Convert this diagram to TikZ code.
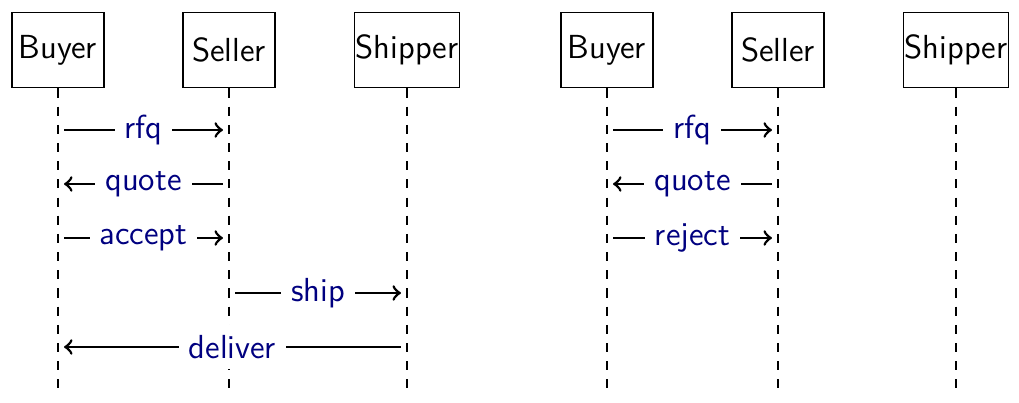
\documentclass[tikz,border=0pt]{standalone}
\usepackage{tikz}
\usetikzlibrary{arrows,calc,positioning}
\tikzstyle{actor} = [rectangle, minimum width=30.4pt, minimum height=25pt, inner xsep=0.4pt, text centered, draw=black, font=\sffamily\fontsize{11}{13}\selectfont]
\tikzstyle{lifeline} = [dashed, thin]
\tikzstyle{msg} = [line width=0.9pt,->,shorten >=2pt,shorten <=2pt]
\tikzstyle{lbl} = [fill=white, text=blue!50!black, font=\sffamily\fontsize{11}{13}\selectfont]

\begin{document}
\begin{tikzpicture}[x=0.33pt, y=-0.33pt]
\useasboundingbox (0,0) rectangle (1019,403);

% rows
\coordinate (r1) at (0,130);
\coordinate (r2) at (0,184);
\coordinate (r3) at (0,238);
\coordinate (r4) at (0,293);
\coordinate (r5) at (0,347);
\coordinate (bottom) at (0,390);

% first run
\node (buyer1)   [actor] at (58,50)  {Buyer};
\node (seller1)  [actor] at (229,50) {Seller};
\node (shipper1) [actor] at (407,50) {Shipper};

% second run
\node (buyer2)   [actor] at (607,50) {Buyer};
\node (seller2)  [actor] at (778,50) {Seller};
\node (shipper2) [actor] at (956,50) {Shipper};

\draw [lifeline] (buyer1.south) -- (buyer1.south |- bottom);
\draw [lifeline] (seller1.south) -- (seller1.south |- bottom);
\draw [lifeline] (shipper1.south) -- (shipper1.south |- bottom);
\draw [lifeline] (buyer2.south) -- (buyer2.south |- bottom);
\draw [lifeline] (seller2.south) -- (seller2.south |- bottom);
\draw [lifeline] (shipper2.south) -- (shipper2.south |- bottom);

\draw [msg] (buyer1 |- r1) -- node [lbl] {rfq} (seller1 |- r1);
\draw [msg] (seller1 |- r2) -- node [lbl] {quote} (buyer1 |- r2);
\draw [msg] (buyer1 |- r3) -- node [lbl] {accept} (seller1 |- r3);
\draw [msg] (seller1 |- r4) -- node [lbl] {ship} (shipper1 |- r4);
\draw [msg] (shipper1 |- r5) -- node [lbl] {deliver} (buyer1 |- r5);

\draw [msg] (buyer2 |- r1) -- node [lbl] {rfq} (seller2 |- r1);
\draw [msg] (seller2 |- r2) -- node [lbl] {quote} (buyer2 |- r2);
\draw [msg] (buyer2 |- r3) -- node [lbl] {reject} (seller2 |- r3);

\end{tikzpicture}
\end{document}
